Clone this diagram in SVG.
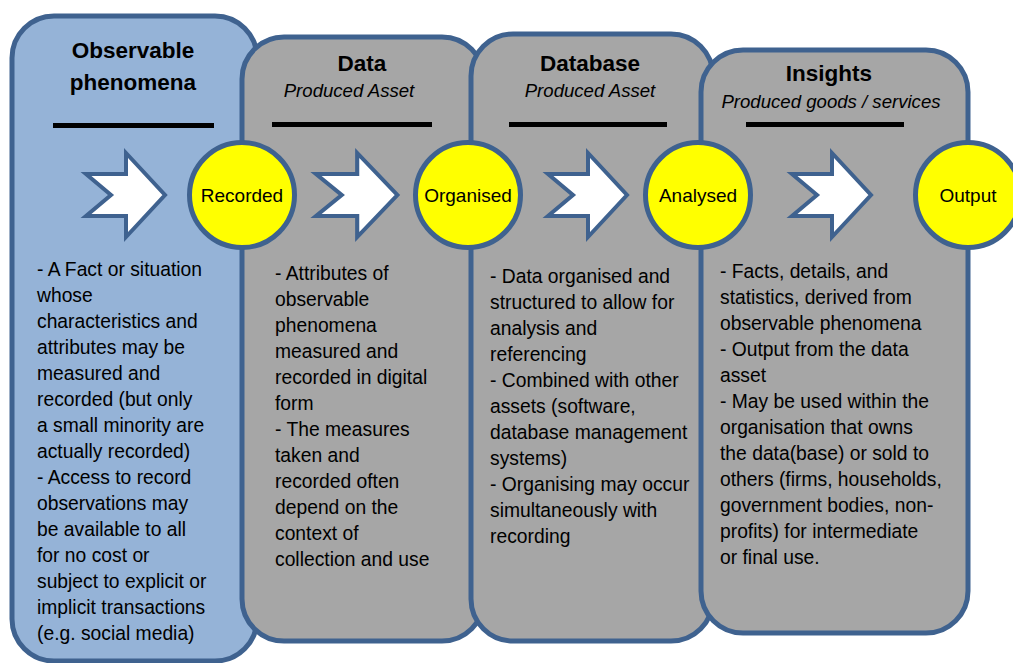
<svg xmlns="http://www.w3.org/2000/svg" width="1013" height="663" viewBox="0 0 1013 663">
<style>
.panel{stroke:#3f628f;stroke-width:5}
.blue{fill:#95b3d7}
.gray{fill:#a6a6a6}
.circ{fill:#ffff00;stroke:#3f628f;stroke-width:5}
.arr{fill:#ffffff;stroke:#3f628f;stroke-width:4;stroke-linejoin:miter}
.bar{fill:#000000}
.title{font-family:"Liberation Sans",Arial,sans-serif;font-weight:bold;font-size:22.5px;fill:#000;text-anchor:middle}
.sub{font-family:"Liberation Sans",Arial,sans-serif;font-style:italic;font-size:18.6px;fill:#000;text-anchor:middle}
.body{font-family:"Liberation Sans",Arial,sans-serif;font-size:19.3px;fill:#000}
.lbl{font-family:"Liberation Sans",Arial,sans-serif;font-size:19px;fill:#000;text-anchor:middle}
</style>
<defs>
<path id="arrowShape" d="M0,-21 L40,-21 L40,-42 L79,0 L40,42 L40,21 L0,21 L25,0 Z"/>
</defs>
<g id="panel-observable">
<rect class="panel blue" x="12" y="16" width="245" height="645" rx="42" ry="42"/>
<text class="title" x="133" y="58">Observable</text>
<text class="title" x="133" y="90">phenomena</text>
<rect class="bar" x="53" y="123" width="161" height="5"/>
<text class="body" x="37">
<tspan x="37" y="276">- A Fact or situation</tspan>
<tspan x="37" y="302">whose</tspan>
<tspan x="37" y="328">characteristics and</tspan>
<tspan x="37" y="354">attributes may be</tspan>
<tspan x="37" y="380">measured and</tspan>
<tspan x="37" y="406">recorded (but only</tspan>
<tspan x="37" y="432">a small minority are</tspan>
<tspan x="37" y="458">actually recorded)</tspan>
<tspan x="37" y="484">- Access to record</tspan>
<tspan x="37" y="510">observations may</tspan>
<tspan x="37" y="536">be available to all</tspan>
<tspan x="37" y="562">for no cost or</tspan>
<tspan x="37" y="588">subject to explicit or</tspan>
<tspan x="37" y="614">implicit transactions</tspan>
<tspan x="37" y="640">(e.g. social media)</tspan>
</text>
</g>
<g id="panel-data">
<rect class="panel gray" x="242" y="37" width="242" height="604" rx="42" ry="42"/>
<text class="title" x="362" y="71">Data</text>
<text class="sub" x="349" y="97">Produced Asset</text>
<rect class="bar" x="272" y="122" width="160" height="5"/>
<text class="body">
<tspan x="275" y="280">- Attributes of</tspan>
<tspan x="275" y="306">observable</tspan>
<tspan x="275" y="332">phenomena</tspan>
<tspan x="275" y="358">measured and</tspan>
<tspan x="275" y="384">recorded in digital</tspan>
<tspan x="275" y="410">form</tspan>
<tspan x="275" y="436">- The measures</tspan>
<tspan x="275" y="462">taken and</tspan>
<tspan x="275" y="488">recorded often</tspan>
<tspan x="275" y="514">depend on the</tspan>
<tspan x="275" y="540">context of</tspan>
<tspan x="275" y="566">collection and use</tspan>
</text>
</g>
<g id="panel-database">
<rect class="panel gray" x="471" y="34" width="242" height="607" rx="42" ry="42"/>
<text class="title" x="590" y="71">Database</text>
<text class="sub" x="590" y="97">Produced Asset</text>
<rect class="bar" x="509" y="122" width="158" height="5"/>
<text class="body">
<tspan x="490" y="283">- Data organised and</tspan>
<tspan x="490" y="309">structured to allow for</tspan>
<tspan x="490" y="335">analysis and</tspan>
<tspan x="490" y="361">referencing</tspan>
<tspan x="490" y="387">- Combined with other</tspan>
<tspan x="490" y="413">assets (software,</tspan>
<tspan x="490" y="439">database management</tspan>
<tspan x="490" y="465">systems)</tspan>
<tspan x="490" y="491">- Organising may occur</tspan>
<tspan x="490" y="517">simultaneously with</tspan>
<tspan x="490" y="543">recording</tspan>
</text>
</g>
<g id="panel-insights">
<rect class="panel gray" x="701" y="50" width="267" height="583" rx="42" ry="42"/>
<text class="title" x="829" y="81">Insights</text>
<text class="sub" x="831" y="108">Produced goods / services</text>
<rect class="bar" x="746" y="122" width="158" height="5"/>
<text class="body">
<tspan x="720" y="278">- Facts, details, and</tspan>
<tspan x="720" y="304">statistics, derived from</tspan>
<tspan x="720" y="330">observable phenomena</tspan>
<tspan x="720" y="356">- Output from the data</tspan>
<tspan x="720" y="382">asset</tspan>
<tspan x="720" y="408">- May be used within the</tspan>
<tspan x="720" y="434">organisation that owns</tspan>
<tspan x="720" y="460">the data(base) or sold to</tspan>
<tspan x="720" y="486">others (firms, households,</tspan>
<tspan x="720" y="512">government bodies, non-</tspan>
<tspan x="720" y="538">profits) for intermediate</tspan>
<tspan x="720" y="564">or final use.</tspan>
</text>
</g>
<g id="connectors">
<use href="#arrowShape" class="arr" transform="translate(86,195)"/>
<use href="#arrowShape" class="arr" transform="translate(316,195) scale(1.03,1)"/>
<use href="#arrowShape" class="arr" transform="translate(548,195)"/>
<use href="#arrowShape" class="arr" transform="translate(792,195)"/>
</g>
<g id="node-recorded">
<circle class="circ" cx="242" cy="195" r="52.5"/>
<text class="lbl" x="242" y="202">Recorded</text>
</g>
<g id="node-organised">
<circle class="circ" cx="468" cy="195" r="52.5"/>
<text class="lbl" x="468" y="202">Organised</text>
</g>
<g id="node-analysed">
<circle class="circ" cx="698" cy="195" r="52.5"/>
<text class="lbl" x="698" y="202">Analysed</text>
</g>
<g id="node-output">
<circle class="circ" cx="968" cy="195" r="52.5"/>
<text class="lbl" x="968" y="202">Output</text>
</g>
</svg>
